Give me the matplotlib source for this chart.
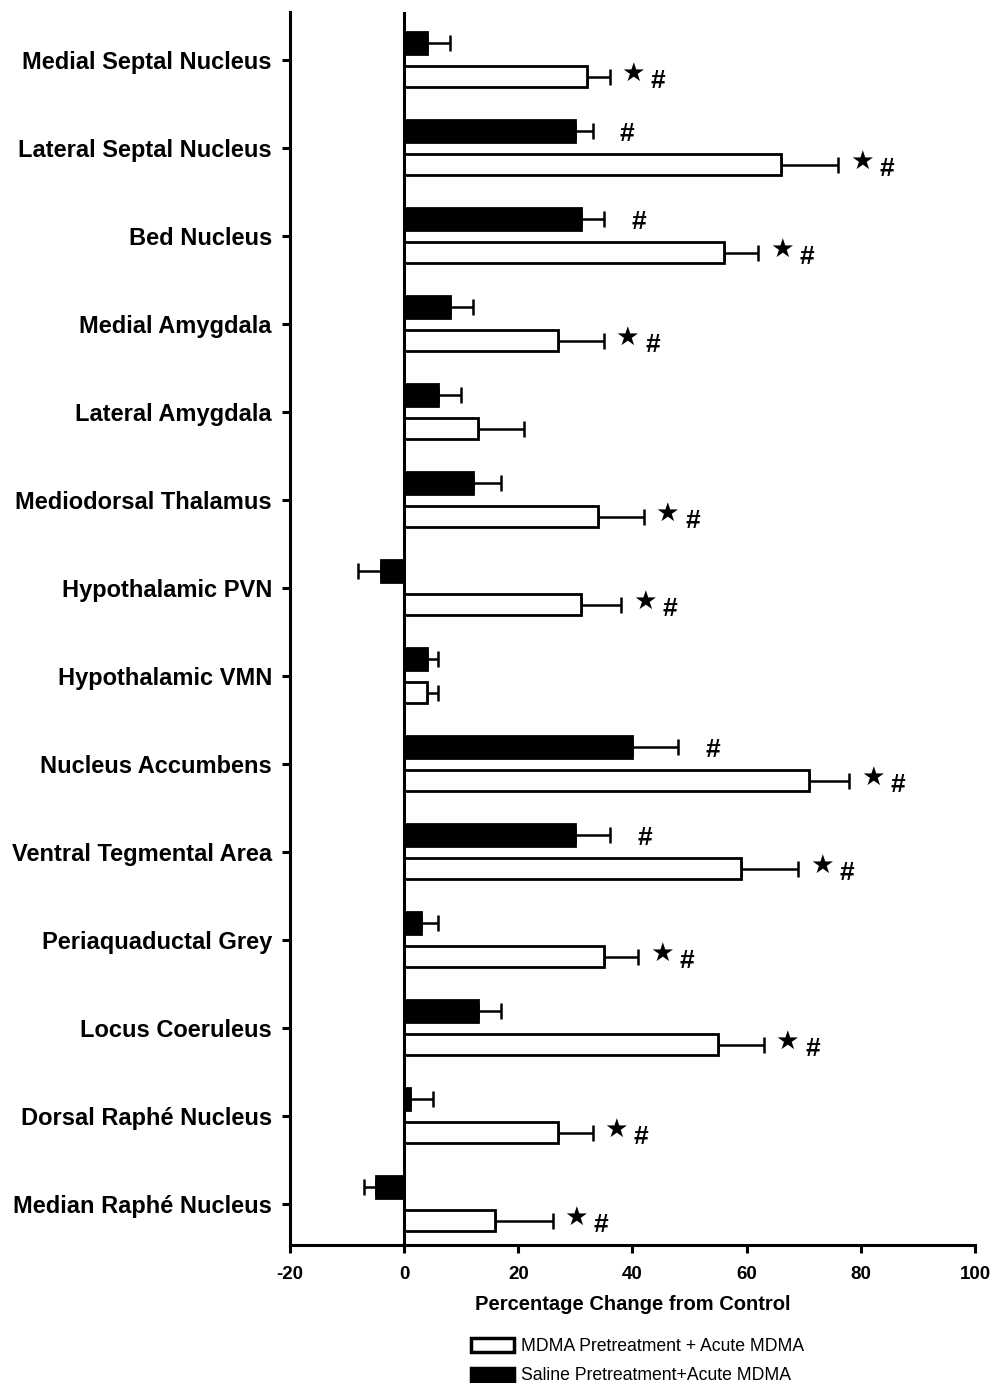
import matplotlib
matplotlib.use("Agg")
import matplotlib.pyplot as plt
from matplotlib.patches import Patch
import numpy as np

plt.rcParams['font.family'] = ['Liberation Sans', 'DejaVu Sans']

regions = ["Medial Septal Nucleus", "Lateral Septal Nucleus", "Bed Nucleus",
           "Medial Amygdala", "Lateral Amygdala", "Mediodorsal Thalamus",
           "Hypothalamic PVN", "Hypothalamic VMN", "Nucleus Accumbens",
           "Ventral Tegmental Area", "Periaquaductal Grey", "Locus Coeruleus",
           "Dorsal Raphé Nucleus", "Median Raphé Nucleus"]

# Saline pretreatment + acute MDMA (filled bars)
saline = [4, 30, 31, 8, 6, 12, -4, 4, 40, 30, 3, 13, 1, -5]
saline_sem = [4, 3, 4, 4, 4, 5, 4, 2, 8, 6, 3, 4, 4, 2]
saline_hash = [False, True, True, False, False, False, False, False, True, True,
               False, False, False, False]

# MDMA pretreatment + acute MDMA (open bars)
mdma = [32, 66, 56, 27, 13, 34, 31, 4, 71, 59, 35, 55, 27, 16]
mdma_sem = [4, 10, 6, 8, 8, 8, 7, 2, 7, 10, 6, 8, 6, 10]
mdma_star = [True, True, True, True, False, True, True, False, True, True,
             True, True, True, True]
mdma_hash = list(mdma_star)

xticks = [-20, 0, 20, 40, 60, 80, 100]

fig = plt.figure(figsize=(9.92, 13.83), dpi=100)
ax = fig.add_axes([0.2923, 0.0998, 0.6906, 0.8915])

y = np.arange(len(regions))
off = 0.19
h = 0.245


def one_sided(vals, errs):
    vals = np.array(vals, float)
    errs = np.array(errs, float)
    lo = np.where(vals < 0, errs, 0)
    hi = np.where(vals < 0, 0, errs)
    return np.vstack([lo, hi])


ax.barh(y - off, saline, height=h, color='black', edgecolor='black', lw=2, zorder=3)
ax.barh(y + off, mdma, height=h, color='white', edgecolor='black', lw=2, zorder=3)
ax.errorbar(saline, y - off, xerr=one_sided(saline, saline_sem), fmt='none',
            ecolor='black', elinewidth=1.8, capsize=6, capthick=1.8, zorder=2)
ax.errorbar(mdma, y + off, xerr=one_sided(mdma, mdma_sem), fmt='none',
            ecolor='black', elinewidth=1.8, capsize=6, capthick=1.8, zorder=2)

ax.axvline(0, color='black', lw=2.2, zorder=4)

# significance marks placed just past each error bar
for i in range(len(regions)):
    end = saline[i] + saline_sem[i]
    if saline_hash[i]:
        ax.annotate('#', (end, y[i] - off), xytext=(25, -2), textcoords='offset points',
                    ha='center', va='center', fontsize=19, fontweight='bold')
    end = mdma[i] + mdma_sem[i]
    if mdma_star[i]:
        ax.annotate('★', (end, y[i] + off), xytext=(17, 2), textcoords='offset points',
                    ha='center', va='center', fontsize=19, family='DejaVu Sans')
    if mdma_hash[i]:
        ax.annotate('#', (end, y[i] + off), xytext=(35, -3), textcoords='offset points',
                    ha='center', va='center', fontsize=19, fontweight='bold')

ax.set_xlim(-20, 100)
ax.set_ylim(13.466, -0.545)
ax.set_yticks(y)
ax.set_yticklabels(regions, fontsize=17, fontweight='bold')
ax.set_xticks(xticks)
ax.set_xticklabels([str(t) for t in xticks], fontsize=13.5, fontweight='bold')
ax.tick_params(axis='both', width=2.2, length=6, direction='out', pad=7)
ax.tick_params(axis='x', pad=9)
ax.set_xlabel("Percentage Change from Control", fontsize=14.5, fontweight='bold', labelpad=9)

for s in ['top', 'right']:
    ax.spines[s].set_visible(False)
for s in ['left', 'bottom']:
    ax.spines[s].set_linewidth(2.2)

handles = [Patch(facecolor='white', edgecolor='black', lw=2.5),
           Patch(facecolor='black', edgecolor='black', lw=2.5)]
fig.legend(handles, ["MDMA Pretreatment + Acute MDMA", "Saline Pretreatment+Acute MDMA"],
           loc='upper left', bbox_to_anchor=(0.475, 0.0325), frameon=False,
           fontsize=12.7, handlelength=2.45, handleheight=0.8, handletextpad=0.35,
           labelspacing=0.7, borderpad=0, borderaxespad=0)

fig.savefig("out.png", dpi=100)
